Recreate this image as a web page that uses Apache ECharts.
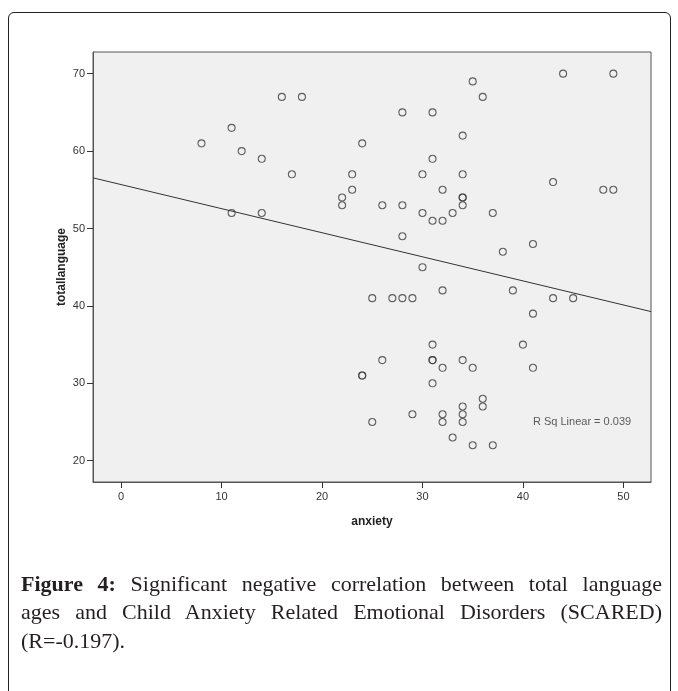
<!DOCTYPE html>
<html>
<head>
<meta charset="utf-8">
<script src="https://cdn.jsdelivr.net/npm/echarts@6/dist/echarts.min.js"></script>
<style>
  html, body { margin: 0; padding: 0; background: #ffffff; }
  #wrap { position: relative; width: 678px; height: 691px; overflow: hidden; background: #fff; }
  #frame { position: absolute; left: 8px; top: 12px; width: 663px; height: 720px; border: 1px solid #222; border-radius: 6px; box-sizing: border-box; }
  #chart { position: absolute; left: 0; top: 0; width: 678px; height: 691px; }
  #caption { position: absolute; left: 21px; top: 570px; width: 641px; font-family: "Liberation Serif", "Times New Roman", serif; font-size: 22px; line-height: 28.3px; color: #231f20; }
  #caption .j { white-space: nowrap; text-align: justify; text-align-last: justify; }
  #caption .l { white-space: nowrap; text-align: left; }
</style>
</head>
<body>
<div id="wrap">
  <div id="frame"></div>
  <div id="chart"></div>
  <div id="caption">
    <div class="j"><b>Figure 4:</b> Significant negative correlation between total language</div>
    <div class="j">ages and Child Anxiety Related Emotional Disorders (SCARED)</div>
    <div class="l">(R=-0.197).</div>
  </div>
</div>
<script>
// ---- data ----
var anxiety = [8, 11, 12, 14, 11, 14, 16, 18, 28, 31, 35, 36, 34, 24, 31, 17, 23, 30, 34, 23,
               32, 22, 22, 34, 34, 34, 26, 28, 30, 31, 32, 33, 37, 28, 44, 49, 43, 48, 49, 41,
               38, 30, 32, 25, 27, 28, 29, 31, 26, 31, 31, 34, 32, 35, 24, 24, 31, 36, 36, 34,
               29, 32, 34, 25, 32, 34, 33, 35, 37, 39, 43, 45, 41, 40, 41];
var totalLanguage = [61, 63, 60, 59, 52, 52, 67, 67, 65, 65, 69, 67, 62, 61, 59, 57, 57, 57, 57, 55,
                     55, 54, 53, 54, 54, 53, 53, 53, 52, 51, 51, 52, 52, 49, 70, 70, 56, 55, 55, 48,
                     47, 45, 42, 41, 41, 41, 41, 35, 33, 33, 33, 33, 32, 32, 31, 31, 30, 28, 27, 27,
                     26, 26, 26, 25, 25, 25, 23, 22, 22, 42, 41, 41, 39, 35, 32];
var xTicks = [0, 10, 20, 30, 40, 50];
var yTicks = [20, 30, 40, 50, 60, 70];
var xRange = [-2.8, 52.75];
var yRange = [17.25, 72.8];
var fitIntercept = [55.67];
var fitSlope = [-0.311];
var rSqText = ["R Sq Linear = 0.039"];
var rSqAnchor = [[41.0, 25.0]];
var xName = "anxiety";
var yName = "totallanguage";

// ---- build ----
var points = anxiety.map(function (a, i) { return [a, totalLanguage[i]]; });
var fitLine = [
  [xRange[0], fitIntercept[0] + fitSlope[0] * xRange[0]],
  [xRange[1], fitIntercept[0] + fitSlope[0] * xRange[1]]
];

var axisFont = { fontFamily: "Liberation Sans, Arial, sans-serif", fontSize: 11, color: "#333" };

var chart = echarts.init(document.getElementById("chart"), null, { renderer: "canvas" });
chart.setOption({
  animation: false,
  grid: {
    left: 93, right: 27, top: 52, bottom: 209,
    show: true, backgroundColor: "#f0f0f0", borderColor: "#555", borderWidth: 1
  },
  xAxis: {
    type: "value", min: xRange[0], max: xRange[1],
    name: xName, nameLocation: "middle", nameGap: 34, nameMoveOverlap: false,
    nameTextStyle: { fontFamily: "Liberation Sans, Arial, sans-serif", fontSize: 12, fontWeight: "bold", color: "#222" },
    axisLine: { show: true, onZero: false, lineStyle: { color: "#555", width: 1 } },
    axisTick: { show: true, length: 6, customValues: xTicks, lineStyle: { color: "#333", width: 1 } },
    axisLabel: Object.assign({ customValues: xTicks, margin: 9 }, axisFont),
    splitLine: { show: false }
  },
  yAxis: {
    type: "value", min: yRange[0], max: yRange[1],
    name: yName, nameLocation: "middle", nameGap: 25, nameRotate: 90, nameMoveOverlap: false,
    nameTextStyle: { fontFamily: "Liberation Sans, Arial, sans-serif", fontSize: 12, fontWeight: "bold", color: "#222" },
    axisLine: { show: true, onZero: false, lineStyle: { color: "#555", width: 1 } },
    axisTick: { show: true, length: 6, customValues: yTicks, lineStyle: { color: "#333", width: 1 } },
    axisLabel: Object.assign({ customValues: yTicks, margin: 8 }, axisFont),
    splitLine: { show: false }
  },
  series: [
    {
      type: "line", data: fitLine, symbol: "none", silent: true,
      lineStyle: { color: "#333", width: 1 }, z: 2
    },
    {
      type: "scatter", data: points, symbol: "circle", symbolSize: 7,
      itemStyle: { color: "rgba(0,0,0,0)", borderColor: "#3a3a3a", borderWidth: 1.1 }, z: 3
    },
    {
      type: "scatter", data: rSqAnchor, symbolSize: 0, silent: true,
      label: {
        show: true, position: "right", distance: 0,
        formatter: function () { return rSqText[0]; },
        fontFamily: "Liberation Sans, Arial, sans-serif", fontSize: 11, color: "#333"
      }
    }
  ]
});
</script>
</body>
</html>
